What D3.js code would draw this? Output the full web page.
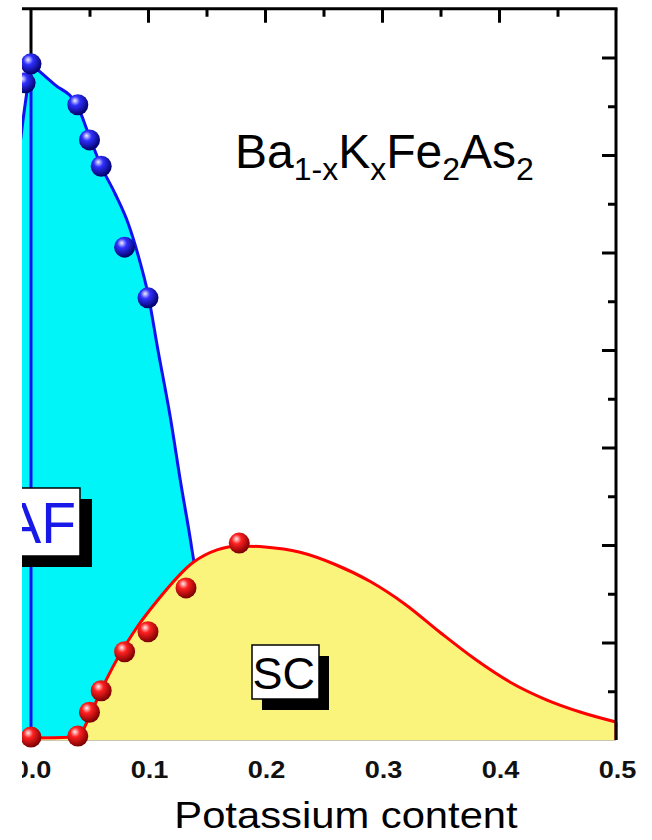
<!DOCTYPE html>
<html>
<head>
<meta charset="utf-8">
<script src="https://cdn.jsdelivr.net/npm/d3@7"></script>
<style>
  body { margin: 0; background: #fff; }
  text { font-family: "Liberation Sans", Arial, sans-serif; }
</style>
</head>
<body>
<div id="chart"></div>
<script>
/* Ba1-xKxFe2As2 phase diagram (AF + SC domes) */

// x tick labels and tick positions
const xMajor = [0, 0.1, 0.2, 0.3, 0.4, 0.5];
const xMinor = [0.05, 0.15, 0.25, 0.35, 0.45];
const yMajor = [20, 40, 60, 80, 100, 120, 140];
const yMinor = [10, 30, 50, 70, 90, 110, 130];

// AF boundary (Néel temperature), left branch and right branch
const afLeftX = [-0.016, -0.0077, 0];
const afLeftT = [108, 125.5, 138.7];
const afX = [0, 0.02, 0.039, 0.05, 0.059, 0.072, 0.083, 0.0915, 0.1, 0.1085, 0.119, 0.128, 0.1376, 0.147];
const afT = [138.7, 134.5, 130.4, 123.8, 118.2, 112, 106, 99.5, 91.5, 80, 66.3, 52.7, 39, 22];

// SC dome (Tc)
const scX = [-0.012, 0, 0.04, 0.0487, 0.0598, 0.07, 0.0872, 0.1077, 0.139, 0.159, 0.178, 0.2, 0.23, 0.26, 0.29, 0.32, 0.35, 0.38, 0.41, 0.44, 0.47, 0.5];
const scT = [0.4, 0.4, 0.6, 4.1, 10.1, 15.0, 21.9, 28.5, 36.5, 39.0, 39.8, 39.6, 38.5, 36, 32.5, 27.8, 22, 16.5, 11.8, 8.3, 5.7, 3.7];

// measured points
const afPtX = [-0.005, 0, 0.04, 0.05, 0.06, 0.08, 0.1];
const afPtT = [134.8, 138.7, 130.3, 123.1, 117.7, 101.1, 90.7];
const scPtX = [0, 0.04, 0.05, 0.06, 0.08, 0.1, 0.1325, 0.178];
const scPtT = [0.6, 0.8, 5.7, 10.1, 18.1, 22.2, 31.2, 40.4];

const width = 652, height = 840;

let svg = d3.select("#chart")
    .append("svg")
    .attr("width", width)
    .attr("height", height);

let x = d3.scaleLinear().domain([0, 0.5]).range([31, 616]);
let y = d3.scaleLinear().domain([0, 150]).range([740, 8.75]);

//gradients for the shaded balls
let defs = svg.append("defs");
function ball(id, c0, c1, c2) {
    let g = defs.append("radialGradient").attr("id", id)
        .attr("cx", "40%").attr("cy", "35%").attr("r", "65%")
        .attr("fx", "36%").attr("fy", "30%");
    g.append("stop").attr("offset", "0%").attr("stop-color", c0);
    g.append("stop").attr("offset", "35%").attr("stop-color", c1);
    g.append("stop").attr("offset", "100%").attr("stop-color", c2);
}
ball("blueBall", "#f0f0ff", "#3030ff", "#000068");
ball("redBall", "#fff0f0", "#ff2020", "#7a0000");

//left axis line at x = 0 (mostly covered)
svg.append("line")
    .attr("x1", x(0)).attr("x2", x(0))
    .attr("y1", y(150)).attr("y2", y(0))
    .attr("stroke", "#000").attr("stroke-width", 3);

const toPts = (xs, ts) => xs.map((v, i) => [v, ts[i]]);

let area = d3.area()
    .x(d => x(d[0])).y0(y(0)).y1(d => y(d[1]))
    .curve(d3.curveMonotoneX);
let line = d3.line()
    .x(d => x(d[0])).y(d => y(d[1]))
    .curve(d3.curveMonotoneX);

//AF region (extends below the SC dome)
let afRight = toPts(afX, afT).concat([[0.152, 0]]);
svg.append("path").datum(toPts(afLeftX, afLeftT))
    .attr("d", area).attr("fill", "#00f5f8");
svg.append("path").datum(afRight)
    .attr("d", area).attr("fill", "#00f5f8");

svg.append("line")
    .attr("x1", x(0)).attr("x2", x(0))
    .attr("y1", y(afT[0])).attr("y2", y(0))
    .attr("stroke", "#1010f0").attr("stroke-width", 3);

svg.append("path").datum(toPts(afLeftX, afLeftT))
    .attr("d", line).attr("fill", "none")
    .attr("stroke", "#1010f0").attr("stroke-width", 3);
svg.append("path").datum(afRight)
    .attr("d", line).attr("fill", "none")
    .attr("stroke", "#1010f0").attr("stroke-width", 3);

//SC dome
let scPts = toPts(scX, scT);
svg.append("path").datum(scPts)
    .attr("d", area).attr("fill", "#faf47c");
svg.append("line")
    .attr("x1", x(0)).attr("x2", x(0.5))
    .attr("y1", y(0) + 0.5).attr("y2", y(0) + 0.5)
    .attr("stroke", "#c8c8b0").attr("stroke-width", 1);
svg.append("path").datum(scPts)
    .attr("d", line).attr("fill", "none")
    .attr("stroke", "#ff0000").attr("stroke-width", 3);
svg.append("line")
    .attr("x1", x(0.5)).attr("x2", x(0.5))
    .attr("y1", y(scT[scT.length - 1])).attr("y2", y(0))
    .attr("stroke", "#ff0000").attr("stroke-width", 3);

//frame: top and right
svg.append("line")
    .attr("x1", 0).attr("x2", x(0.5) + 1.5)
    .attr("y1", y(150)).attr("y2", y(150))
    .attr("stroke", "#000").attr("stroke-width", 3);
svg.append("line")
    .attr("x1", x(0.5)).attr("x2", x(0.5))
    .attr("y1", y(150)).attr("y2", y(0))
    .attr("stroke", "#000").attr("stroke-width", 3);

//inward ticks on top
svg.append("g")
    .attr("transform", `translate(0,${y(150)})`)
    .call(d3.axisTop(x).tickValues(xMajor.slice(1, -1)).tickSize(-14).tickFormat(""))
    .call(g => g.select(".domain").remove())
    .call(g => g.selectAll("line").attr("stroke-width", 3));
svg.append("g")
    .attr("transform", `translate(0,${y(150)})`)
    .call(d3.axisTop(x).tickValues(xMinor).tickSize(-8).tickFormat(""))
    .call(g => g.select(".domain").remove())
    .call(g => g.selectAll("line").attr("stroke-width", 3));

//inward ticks on right
svg.append("g")
    .attr("transform", `translate(${x(0.5)},0)`)
    .call(d3.axisRight(y).tickValues(yMajor).tickSize(-14).tickFormat(""))
    .call(g => g.select(".domain").remove())
    .call(g => g.selectAll("line").attr("stroke-width", 3));
svg.append("g")
    .attr("transform", `translate(${x(0.5)},0)`)
    .call(d3.axisRight(y).tickValues(yMinor).tickSize(-8).tickFormat(""))
    .call(g => g.select(".domain").remove())
    .call(g => g.selectAll("line").attr("stroke-width", 3));

//bottom labels (slightly wide, as in the original)
svg.append("g")
    .attr("transform", `translate(0,${y(0)})`)
    .call(d3.axisBottom(x).tickValues(xMajor).tickSize(0).tickFormat(d3.format(".1f")))
    .call(g => g.select(".domain").remove())
    .call(g => g.selectAll("text")
        .attr("y", 0).attr("dy", null)
        .attr("transform", "translate(1,38) scale(1.18,1)")
        .style("font-size", "23px").style("font-weight", "bold")
        .style("font-family", "'Liberation Sans', Arial, sans-serif")
        .attr("fill", "#111"));

svg.append("text")
    .attr("transform", "translate(346,828) scale(1.16,1)")
    .attr("text-anchor", "middle")
    .style("font-size", "36px")
    .text("Potassium content");

//points
svg.selectAll(".af")
    .data(toPts(afPtX, afPtT))
    .join("circle")
    .attr("class", "af")
    .attr("cx", d => x(d[0])).attr("cy", d => y(d[1]))
    .attr("r", 10.5)
    .attr("fill", "url(#blueBall)");

svg.selectAll(".sc")
    .data(toPts(scPtX, scPtT))
    .join("circle")
    .attr("class", "sc")
    .attr("cx", d => x(d[0])).attr("cy", d => y(d[1]))
    .attr("r", 10.5)
    .attr("fill", "url(#redBall)");

//label boxes with shadow
function tag(bx, by, bw, bh, dx, dy, label, color, fs, tx, ty) {
    svg.append("rect").attr("x", bx + dx).attr("y", by + dy)
        .attr("width", bw).attr("height", bh).attr("fill", "#000");
    svg.append("rect").attr("x", bx).attr("y", by)
        .attr("width", bw).attr("height", bh)
        .attr("fill", "#fff").attr("stroke", "#000").attr("stroke-width", 1.5);
    svg.append("text").attr("x", tx).attr("y", ty)
        .attr("text-anchor", "end")
        .style("font-size", fs + "px").attr("fill", color)
        .text(label);
}
tag(5, 488, 75, 68, 12, 11, "AF", "#1818e8", 57, 76, 543);
tag(252, 645, 67, 54, 10, 11, "SC", "#000", 45, 315, 689);

//compound formula
let title = svg.append("text")
    .attr("x", 235).attr("y", 168)
    .style("font-size", "48px");
const parts = [["Ba", 0], ["1-x", 1], ["K", 0], ["x", 1], ["Fe", 0], ["2", 1], ["As", 0], ["2", 1]];
let prev = 0;
for (let p of parts) {
    let shift = p[1] ? 12 : 0;
    title.append("tspan")
        .attr("dy", shift - prev)
        .style("font-size", p[1] ? "32px" : "48px")
        .text(p[0]);
    prev = shift;
}

//crop on the left edge
svg.append("rect")
    .attr("x", 0).attr("y", 0)
    .attr("width", 22).attr("height", height)
    .attr("fill", "#fff");
</script>
</body>
</html>
